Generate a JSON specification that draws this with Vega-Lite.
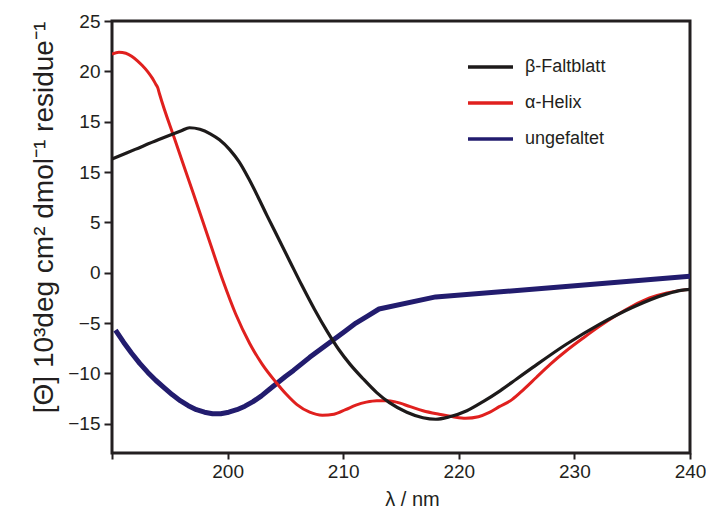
{
  "$schema": "https://vega.github.io/schema/vega-lite/v6.json",
  "autosize": {"type": "none"},
  "padding": {"left": 112, "top": 21, "right": 16, "bottom": 60},
  "width": 578,
  "height": 432,
  "background": "white",
  "config": {
    "view": {"stroke": "#231f20", "strokeWidth": 3},
    "font": "Liberation Sans",
    "axis": {"grid": false, "domain": false, "tickColor": "#231f20", "tickWidth": 2, "labelColor": "#231f20", "titleColor": "#231f20", "labelFont": "Liberation Sans", "titleFont": "Liberation Sans", "titleFontWeight": "normal", "labelFontSize": 19}
  },
  "data": {
    "values": [
      {"s": "ungefaltet", "x": 190.3, "y": -5.7},
      {"s": "ungefaltet", "x": 191.0, "y": -6.9},
      {"s": "ungefaltet", "x": 191.7, "y": -8.0},
      {"s": "ungefaltet", "x": 192.4, "y": -9.0},
      {"s": "ungefaltet", "x": 193.1, "y": -9.9},
      {"s": "ungefaltet", "x": 193.8, "y": -10.7},
      {"s": "ungefaltet", "x": 194.5, "y": -11.4},
      {"s": "ungefaltet", "x": 195.2, "y": -12.1},
      {"s": "ungefaltet", "x": 195.9, "y": -12.7},
      {"s": "ungefaltet", "x": 196.6, "y": -13.2},
      {"s": "ungefaltet", "x": 197.3, "y": -13.6},
      {"s": "ungefaltet", "x": 198.0, "y": -13.85},
      {"s": "ungefaltet", "x": 198.7, "y": -14.0},
      {"s": "ungefaltet", "x": 199.4, "y": -14.0},
      {"s": "ungefaltet", "x": 200.1, "y": -13.85},
      {"s": "ungefaltet", "x": 200.8, "y": -13.6},
      {"s": "ungefaltet", "x": 201.5, "y": -13.25},
      {"s": "ungefaltet", "x": 202.2, "y": -12.8},
      {"s": "ungefaltet", "x": 202.9, "y": -12.25},
      {"s": "ungefaltet", "x": 203.6, "y": -11.6},
      {"s": "ungefaltet", "x": 204.3, "y": -10.95},
      {"s": "ungefaltet", "x": 205.0, "y": -10.3},
      {"s": "ungefaltet", "x": 205.7, "y": -9.7},
      {"s": "ungefaltet", "x": 206.4, "y": -9.05},
      {"s": "ungefaltet", "x": 207.1, "y": -8.4},
      {"s": "ungefaltet", "x": 208.1, "y": -7.55},
      {"s": "ungefaltet", "x": 209.1, "y": -6.7},
      {"s": "ungefaltet", "x": 210.1, "y": -5.85},
      {"s": "ungefaltet", "x": 211.1, "y": -5.0},
      {"s": "ungefaltet", "x": 212.1, "y": -4.3},
      {"s": "ungefaltet", "x": 213.1, "y": -3.6},
      {"s": "ungefaltet", "x": 218.0, "y": -2.4},
      {"s": "ungefaltet", "x": 229.0, "y": -1.4},
      {"s": "ungefaltet", "x": 240.0, "y": -0.35},
      {"s": "α-Helix", "x": 190.0, "y": 21.7},
      {"s": "α-Helix", "x": 190.6, "y": 21.9},
      {"s": "α-Helix", "x": 191.2, "y": 21.8},
      {"s": "α-Helix", "x": 191.7, "y": 21.5},
      {"s": "α-Helix", "x": 192.2, "y": 21.05},
      {"s": "α-Helix", "x": 192.6, "y": 20.6},
      {"s": "α-Helix", "x": 193.1, "y": 19.95},
      {"s": "α-Helix", "x": 193.5, "y": 19.3},
      {"s": "α-Helix", "x": 193.8, "y": 18.7},
      {"s": "α-Helix", "x": 193.95, "y": 18.4},
      {"s": "α-Helix", "x": 194.1, "y": 17.8},
      {"s": "α-Helix", "x": 195.5, "y": 13.0},
      {"s": "α-Helix", "x": 197.0, "y": 8.0},
      {"s": "α-Helix", "x": 198.5, "y": 2.9},
      {"s": "α-Helix", "x": 199.6, "y": -0.8},
      {"s": "α-Helix", "x": 200.7, "y": -4.1},
      {"s": "α-Helix", "x": 201.9, "y": -7.0},
      {"s": "α-Helix", "x": 203.0, "y": -9.1},
      {"s": "α-Helix", "x": 204.2, "y": -10.9},
      {"s": "α-Helix", "x": 205.1, "y": -12.1},
      {"s": "α-Helix", "x": 206.0, "y": -13.1},
      {"s": "α-Helix", "x": 207.1, "y": -13.85},
      {"s": "α-Helix", "x": 208.2, "y": -14.15},
      {"s": "α-Helix", "x": 209.2, "y": -14.05},
      {"s": "α-Helix", "x": 210.2, "y": -13.6},
      {"s": "α-Helix", "x": 211.1, "y": -13.15},
      {"s": "α-Helix", "x": 212.0, "y": -12.85},
      {"s": "α-Helix", "x": 212.9, "y": -12.7},
      {"s": "α-Helix", "x": 213.8, "y": -12.7},
      {"s": "α-Helix", "x": 214.6, "y": -12.85},
      {"s": "α-Helix", "x": 215.8, "y": -13.3},
      {"s": "α-Helix", "x": 216.9, "y": -13.7},
      {"s": "α-Helix", "x": 218.3, "y": -14.05},
      {"s": "α-Helix", "x": 219.5, "y": -14.3},
      {"s": "α-Helix", "x": 220.6, "y": -14.45},
      {"s": "α-Helix", "x": 221.7, "y": -14.3},
      {"s": "α-Helix", "x": 222.6, "y": -13.9},
      {"s": "α-Helix", "x": 223.5, "y": -13.3},
      {"s": "α-Helix", "x": 224.6, "y": -12.6},
      {"s": "α-Helix", "x": 225.6, "y": -11.6},
      {"s": "α-Helix", "x": 226.7, "y": -10.4},
      {"s": "α-Helix", "x": 227.9, "y": -9.1},
      {"s": "α-Helix", "x": 229.3, "y": -7.75},
      {"s": "α-Helix", "x": 230.8, "y": -6.45},
      {"s": "α-Helix", "x": 232.2, "y": -5.3},
      {"s": "α-Helix", "x": 233.6, "y": -4.25},
      {"s": "α-Helix", "x": 235.1, "y": -3.25},
      {"s": "α-Helix", "x": 236.5, "y": -2.5},
      {"s": "α-Helix", "x": 238.0, "y": -2.0},
      {"s": "α-Helix", "x": 239.2, "y": -1.75},
      {"s": "α-Helix", "x": 240.0, "y": -1.65},
      {"s": "β-Faltblatt", "x": 190.0, "y": 11.3},
      {"s": "β-Faltblatt", "x": 192.0, "y": 12.25},
      {"s": "β-Faltblatt", "x": 194.0, "y": 13.2},
      {"s": "β-Faltblatt", "x": 196.0, "y": 14.1},
      {"s": "β-Faltblatt", "x": 196.7, "y": 14.4},
      {"s": "β-Faltblatt", "x": 197.6, "y": 14.25},
      {"s": "β-Faltblatt", "x": 198.5, "y": 13.8},
      {"s": "β-Faltblatt", "x": 199.3, "y": 13.2},
      {"s": "β-Faltblatt", "x": 200.2, "y": 12.2},
      {"s": "β-Faltblatt", "x": 201.0, "y": 11.0},
      {"s": "β-Faltblatt", "x": 201.8, "y": 9.4},
      {"s": "β-Faltblatt", "x": 202.6, "y": 7.6},
      {"s": "β-Faltblatt", "x": 203.4, "y": 5.7},
      {"s": "β-Faltblatt", "x": 204.4, "y": 3.4},
      {"s": "β-Faltblatt", "x": 205.4, "y": 1.1},
      {"s": "β-Faltblatt", "x": 206.4, "y": -1.2},
      {"s": "β-Faltblatt", "x": 207.5, "y": -3.6},
      {"s": "β-Faltblatt", "x": 208.6, "y": -5.8},
      {"s": "β-Faltblatt", "x": 209.6, "y": -7.6},
      {"s": "β-Faltblatt", "x": 210.6, "y": -9.1},
      {"s": "β-Faltblatt", "x": 211.7, "y": -10.5},
      {"s": "β-Faltblatt", "x": 212.9, "y": -11.9},
      {"s": "β-Faltblatt", "x": 214.0, "y": -12.9},
      {"s": "β-Faltblatt", "x": 215.5, "y": -13.85},
      {"s": "β-Faltblatt", "x": 216.9, "y": -14.4},
      {"s": "β-Faltblatt", "x": 218.0, "y": -14.55},
      {"s": "β-Faltblatt", "x": 219.2, "y": -14.3},
      {"s": "β-Faltblatt", "x": 220.7, "y": -13.7},
      {"s": "β-Faltblatt", "x": 222.1, "y": -12.8},
      {"s": "β-Faltblatt", "x": 223.6, "y": -11.7},
      {"s": "β-Faltblatt", "x": 225.0, "y": -10.55},
      {"s": "β-Faltblatt", "x": 226.4, "y": -9.4},
      {"s": "β-Faltblatt", "x": 229.3, "y": -7.1},
      {"s": "β-Faltblatt", "x": 232.2, "y": -5.1},
      {"s": "β-Faltblatt", "x": 235.1, "y": -3.4},
      {"s": "β-Faltblatt", "x": 238.0, "y": -2.1},
      {"s": "β-Faltblatt", "x": 239.2, "y": -1.75},
      {"s": "β-Faltblatt", "x": 240.0, "y": -1.65}
    ]
  },
  "encoding": {
    "x": {
      "field": "x", "type": "quantitative",
      "scale": {"domain": [190, 240], "nice": false, "zero": false},
      "axis": {"values": [190, 200, 210, 220, 230, 240], "labelExpr": "datum.value == 190 ? '' : datum.label", "tickSize": 6, "labelPadding": 3, "title": "λ / nm", "titleFontSize": 20, "titlePadding": 8, "titleX": 300, "labelFlush": false}
    },
    "y": {
      "field": "y", "type": "quantitative",
      "scale": {"domain": [-17.9, 25], "nice": false, "zero": false},
      "axis": {"values": [-15, -10, -5, 0, 5, 10, 15, 20, 25], "labelExpr": "datum.value == 10 ? '15' : datum.label", "tickSize": 8, "labelPadding": 4, "title": "[Θ] 10³deg cm² dmol⁻¹ residue⁻¹", "titleFontSize": 28, "titlePadding": 9, "titleY": 196, "labelFlush": false}
    },
    "color": {
      "field": "s", "type": "nominal",
      "scale": {"domain": ["β-Faltblatt", "α-Helix", "ungefaltet"], "range": ["#1d1a1a", "#e0201e", "#221c6e"]},
      "legend": {"title": null, "orient": "none", "legendX": 354, "legendY": 28, "symbolType": "stroke", "symbolSize": 2025, "symbolStrokeWidth": 3.5, "labelFontSize": 18, "labelFont": "Liberation Sans", "labelColor": "#231f20", "labelOffset": 10, "clipHeight": 36, "rowPadding": 0}
    }
  },
  "layer": [
    {
      "transform": [{"filter": "datum.s == 'ungefaltet'"}],
      "mark": {"type": "line", "interpolate": "linear", "strokeWidth": 5, "strokeJoin": "round", "clip": true}
    },
    {
      "transform": [{"filter": "datum.s == 'α-Helix'"}],
      "mark": {"type": "line", "interpolate": "monotone", "strokeWidth": 3, "clip": true}
    },
    {
      "transform": [{"filter": "datum.s == 'β-Faltblatt'"}],
      "mark": {"type": "line", "interpolate": "monotone", "strokeWidth": 3.2, "clip": true}
    }
  ]
}
